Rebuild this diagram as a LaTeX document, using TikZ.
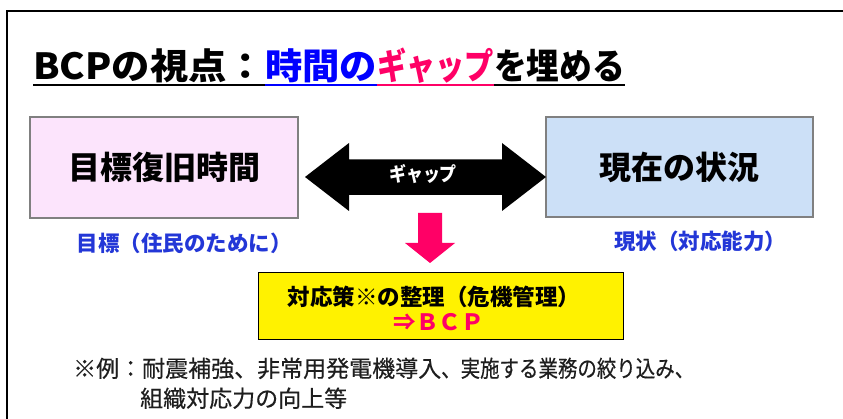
\documentclass[tikz,border=0pt]{standalone}
\usepackage{graphicx}
\usepackage{fontspec}
\newfontfamily\jp{Noto Sans CJK JP}
\newfontfamily\jpn[FakeBold=0.4]{Noto Sans CJK JP}
\newfontfamily\jpg[FakeStretch=0.87]{Noto Sans CJK JP}
\definecolor{ttblue}{RGB}{0,0,255}
\definecolor{ttpink}{RGB}{255,0,102}
\definecolor{lblblue}{RGB}{35,55,215}
\definecolor{boxpink}{RGB}{252,228,252}
\definecolor{boxblue}{RGB}{204,224,247}
\definecolor{boxgray}{RGB}{128,128,128}
\definecolor{notegray}{RGB}{30,30,30}
\newcommand\ulseg[2]{\setbox0\hbox{\resizebox{#1}{\height}{#2}}\rlap{\rule[-7pt]{\wd0}{2pt}}\box0}
\tikzset{
  mainbox/.style={draw=boxgray, line width=2pt, minimum width=268pt, minimum height=101pt, inner sep=0pt,
     font=\jp\bfseries\fontsize{32}{32}\selectfont},
  bluelbl/.style={text=lblblue, inner sep=0pt, font=\jp\bfseries\fontsize{21.5}{21.5}\selectfont},
  yellowbox/.style={draw=black, line width=0.8pt, fill=yellow, minimum width=365pt, minimum height=67pt, inner sep=0pt},
  yeltext/.style={inner sep=0pt, font=\jp\bfseries\fontsize{22.5}{22.5}\selectfont},
  notetext/.style={inner sep=0pt, anchor=base west, text=notegray, font=\jpn\fontsize{23}{23}\selectfont}
}
\begin{document}
\begin{tikzpicture}[x=1pt,y=-1pt]
\useasboundingbox (0,0) rectangle (843,419);
\fill[white] (0,0) rectangle (843,419);
% frame
\draw[line width=2pt] (7,419) -- (7,11.5) -- (843,11.5);
% title
\node[anchor=base west, inner sep=0pt, font=\jp\bfseries\fontsize{36}{36}\selectfont] (title) at (33,79.5)
  {\ulseg{232pt}{BCPの視点：}{\color{ttblue}\ulseg{112pt}{時間の}}{\color{ttpink}\ulseg{117pt}{ギャップ}}\ulseg{131pt}{を埋める}};
% boxes
\node[mainbox, fill=boxpink] (goal) at (164,167.5) {目標復旧時間};
\node[mainbox, fill=boxblue, minimum width=267pt, minimum height=100pt] (now) at (679.5,167) {現在の状況};
\node[bluelbl] (goallbl) at (184,243) {目標（住民のために）};
\node[bluelbl] (nowlbl) at (700,241) {現状（対応能力）};
% double arrow
\fill[black] (305,177) -- (349,143) -- (349,159.5) -- (502,159.5) -- (502,143) -- (546,177)
  -- (502,211) -- (502,195) -- (349,195) -- (349,211) -- cycle;
\node[inner sep=0pt, text=white, font=\jpg\bfseries\fontsize{19.5}{19.5}\selectfont] (gap) at (423,174) {ギャップ};
% down arrow
\fill[ttpink] (418,213) -- (442,213) -- (442,243) -- (455,243) -- (430,263) -- (405,243) -- (418,243) -- cycle;
% yellow box
\node[yellowbox] (plan) at (440.5,305.5) {};
\node[yeltext] (plan1) at (434,297) {対応策※の整理（危機管理）};
\node[yeltext, text=ttpink] (plan2) at (438.5,322) {⇒ＢＣＰ};
% notes
\node[notetext] (note1) at (73,377) {※例：耐震補強、非常用発電機導入\resizebox{253pt}{\height}{、実施する業務の絞り込み、}};
\node[notetext] (note2) at (140,407) {組織対応力の向上等};
\end{tikzpicture}
\end{document}
